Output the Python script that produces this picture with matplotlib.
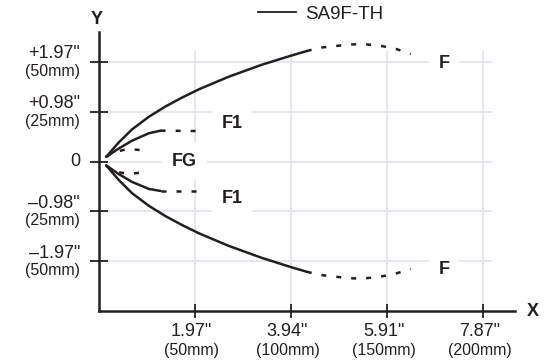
import matplotlib
matplotlib.use("Agg")
import matplotlib.pyplot as plt
from matplotlib.lines import Line2D
from matplotlib.transforms import blended_transform_factory, offset_copy

plt.rcParams['font.family'] = ['Liberation Sans', 'DejaVu Sans']

INK = '#231f20'
GRID = '#dfe3ea'

# tick positions (mm) and their labels
x_ticks = [50, 100, 150, 200]
x_inch = ['1.97"', '3.94"', '5.91"', '7.87"']
x_mm = ['(50mm)', '(100mm)', '(150mm)', '(200mm)']
y_ticks = [50, 25, 0, -25, -50]
y_inch = ['+1.97"', '+0.98"', '0', '\u20130.98"', '\u20131.97"']
y_mm = ['(50mm)', '(25mm)', '', '(25mm)', '(50mm)']

# F - outer beam (solid part, then dashed part)
f_up_x = [3.8, 10.4, 17.3, 26.0, 34.7, 43.4, 52.1, 67.3, 84.7, 100.4, 108.2]
f_up_y = [2.4, 9.7, 16.2, 22.5, 27.7, 32.2, 36.3, 42.5, 48.6, 53.3, 55.5]
f_lo_y = [-2.0, -9.4, -16.0, -22.3, -27.5, -32.0, -36.1, -42.3, -48.4, -53.2, -55.4]
f_dash_x = [108.2, 115.1, 130.7, 137.5, 146.4, 155.0, 162.3]
f_dash_up_y = [55.5, 57.2, 58.8, 59.0, 58.2, 56.5, 53.9]
f_dash_lo_y = [-55.4, -57.0, -58.7, -58.8, -57.9, -56.2, -54.0]

# F1
f1_x = [3.8, 10.4, 17.3, 26.0, 32.1]
f1_up_y = [2.4, 6.6, 10.5, 14.2, 15.5]
f1_lo_y = [-2.0, -6.4, -10.3, -13.8, -14.8]
f1_dash_x = [32.1, 52.6]
f1_dash_up_y = [15.5, 15.3]
f1_dash_lo_y = [-14.8, -14.8]

# FG (dashed only)
fg_x = [3.8, 7.3, 15.3, 25.4]
fg_up_y = [2.4, 4.6, 6.3, 5.4]
fg_lo_y = [-2.0, -4.8, -6.3, -5.2]

# zone labels
zone_names = ['F', 'F', 'F1', 'F1', 'FG']
zone_x = [179.7, 179.7, 69.3, 69.3, 44.5]
zone_y = [49.2, -54.5, 19.3, -18.8, 0]


def main():
    fig = plt.figure(figsize=(5.52, 3.62), dpi=100)
    ax = fig.add_axes([99 / 552, 1 - 311 / 362, 416 / 552, 279 / 362])
    ax.set_xlim(0, 416 / 1.92)
    ax.set_ylim(-149.5 / 1.99, 129.5 / 1.99)

    # grid
    ax.hlines(y_ticks, 0, 204.7, color=GRID, lw=1.2, zorder=0)
    ax.vlines(x_ticks, -75, 55.5, color=GRID, lw=1.2, zorder=0)

    # axes
    for s in ['top', 'right']:
        ax.spines[s].set_visible(False)
    for s in ['left', 'bottom']:
        ax.spines[s].set_linewidth(1.8)
        ax.spines[s].set_color(INK)
    ax.set_xticks(x_ticks)
    ax.set_yticks(y_ticks)
    ax.set_xticklabels([])
    ax.set_yticklabels([])
    ax.tick_params(axis='y', direction='inout', length=13, width=1.3, color=INK)
    ax.tick_params(axis='x', direction='inout', length=9.5, width=1.3, color=INK)

    # tick labels, two lines with different sizes
    ty = blended_transform_factory(ax.transAxes, ax.transData)
    for v, a, b in zip(y_ticks, y_inch, y_mm):
        if b:
            ax.text(0, v, a, transform=offset_copy(ty, fig, x=-19, y=8, units='dots'),
                    ha='right', va='center', fontsize=13, color=INK)
            ax.text(0, v, b, transform=offset_copy(ty, fig, x=-19, y=-9.5, units='dots'),
                    ha='right', va='center', fontsize=11.5, color=INK)
        else:
            ax.text(0, v, a, transform=offset_copy(ty, fig, x=-19, y=0, units='dots'),
                    ha='right', va='center', fontsize=13, color=INK)
    tx = blended_transform_factory(ax.transData, ax.transAxes)
    for v, a, b in zip(x_ticks, x_inch, x_mm):
        ax.text(v, 0, a, transform=offset_copy(tx, fig, x=-3.5, y=-21, units='dots'),
                ha='center', va='center', fontsize=13, color=INK)
        ax.text(v, 0, b, transform=offset_copy(tx, fig, x=-3.5, y=-40, units='dots'),
                ha='center', va='center', fontsize=11.5, color=INK)

    fig.text(96.7 / 552, 1 - 19 / 362, 'Y', ha='center', va='center',
             fontsize=13, fontweight='bold', color=INK)
    fig.text(532.5 / 552, 1 - 311 / 362, 'X', ha='center', va='center',
             fontsize=13, fontweight='bold', color=INK)

    # curves
    solid = dict(color=INK, lw=1.8, solid_capstyle='round',
                 solid_joinstyle='round', zorder=3)
    dashed = dict(color=INK, lw=1.8, linestyle=(0, (2.0, 4.0)), zorder=3)
    ax.plot(f_up_x, f_up_y, **solid)
    ax.plot(f_up_x, f_lo_y, **solid)
    ax.plot(f_dash_x, f_dash_up_y, **dashed)
    ax.plot(f_dash_x, f_dash_lo_y, **dashed)
    ax.plot(f1_x, f1_up_y, **solid)
    ax.plot(f1_x, f1_lo_y, **solid)
    ax.plot(f1_dash_x, f1_dash_up_y, **dashed)
    ax.plot(f1_dash_x, f1_dash_lo_y, **dashed)
    ax.plot(fg_x, fg_up_y, **dashed)
    ax.plot(fg_x, fg_lo_y, **dashed)

    for name, x, y in zip(zone_names, zone_x, zone_y):
        ax.text(x, y, name, ha='center', va='center', fontsize=13,
                fontweight='bold', color=INK, zorder=2,
                bbox=dict(boxstyle='square,pad=0.55', fc='white', ec='none'))

    handle = Line2D([], [], color=INK, lw=1.3)
    fig.legend(handles=[handle], labels=['SA9F-TH'], loc='center left',
               bbox_to_anchor=(258 / 552, 1 - 14 / 362), frameon=False,
               borderpad=0, borderaxespad=0, handlelength=2.0,
               handletextpad=0.5, fontsize=13.5, labelcolor=INK)

    fig.savefig('out.png', dpi=100)


if __name__ == "__main__":
    main()
